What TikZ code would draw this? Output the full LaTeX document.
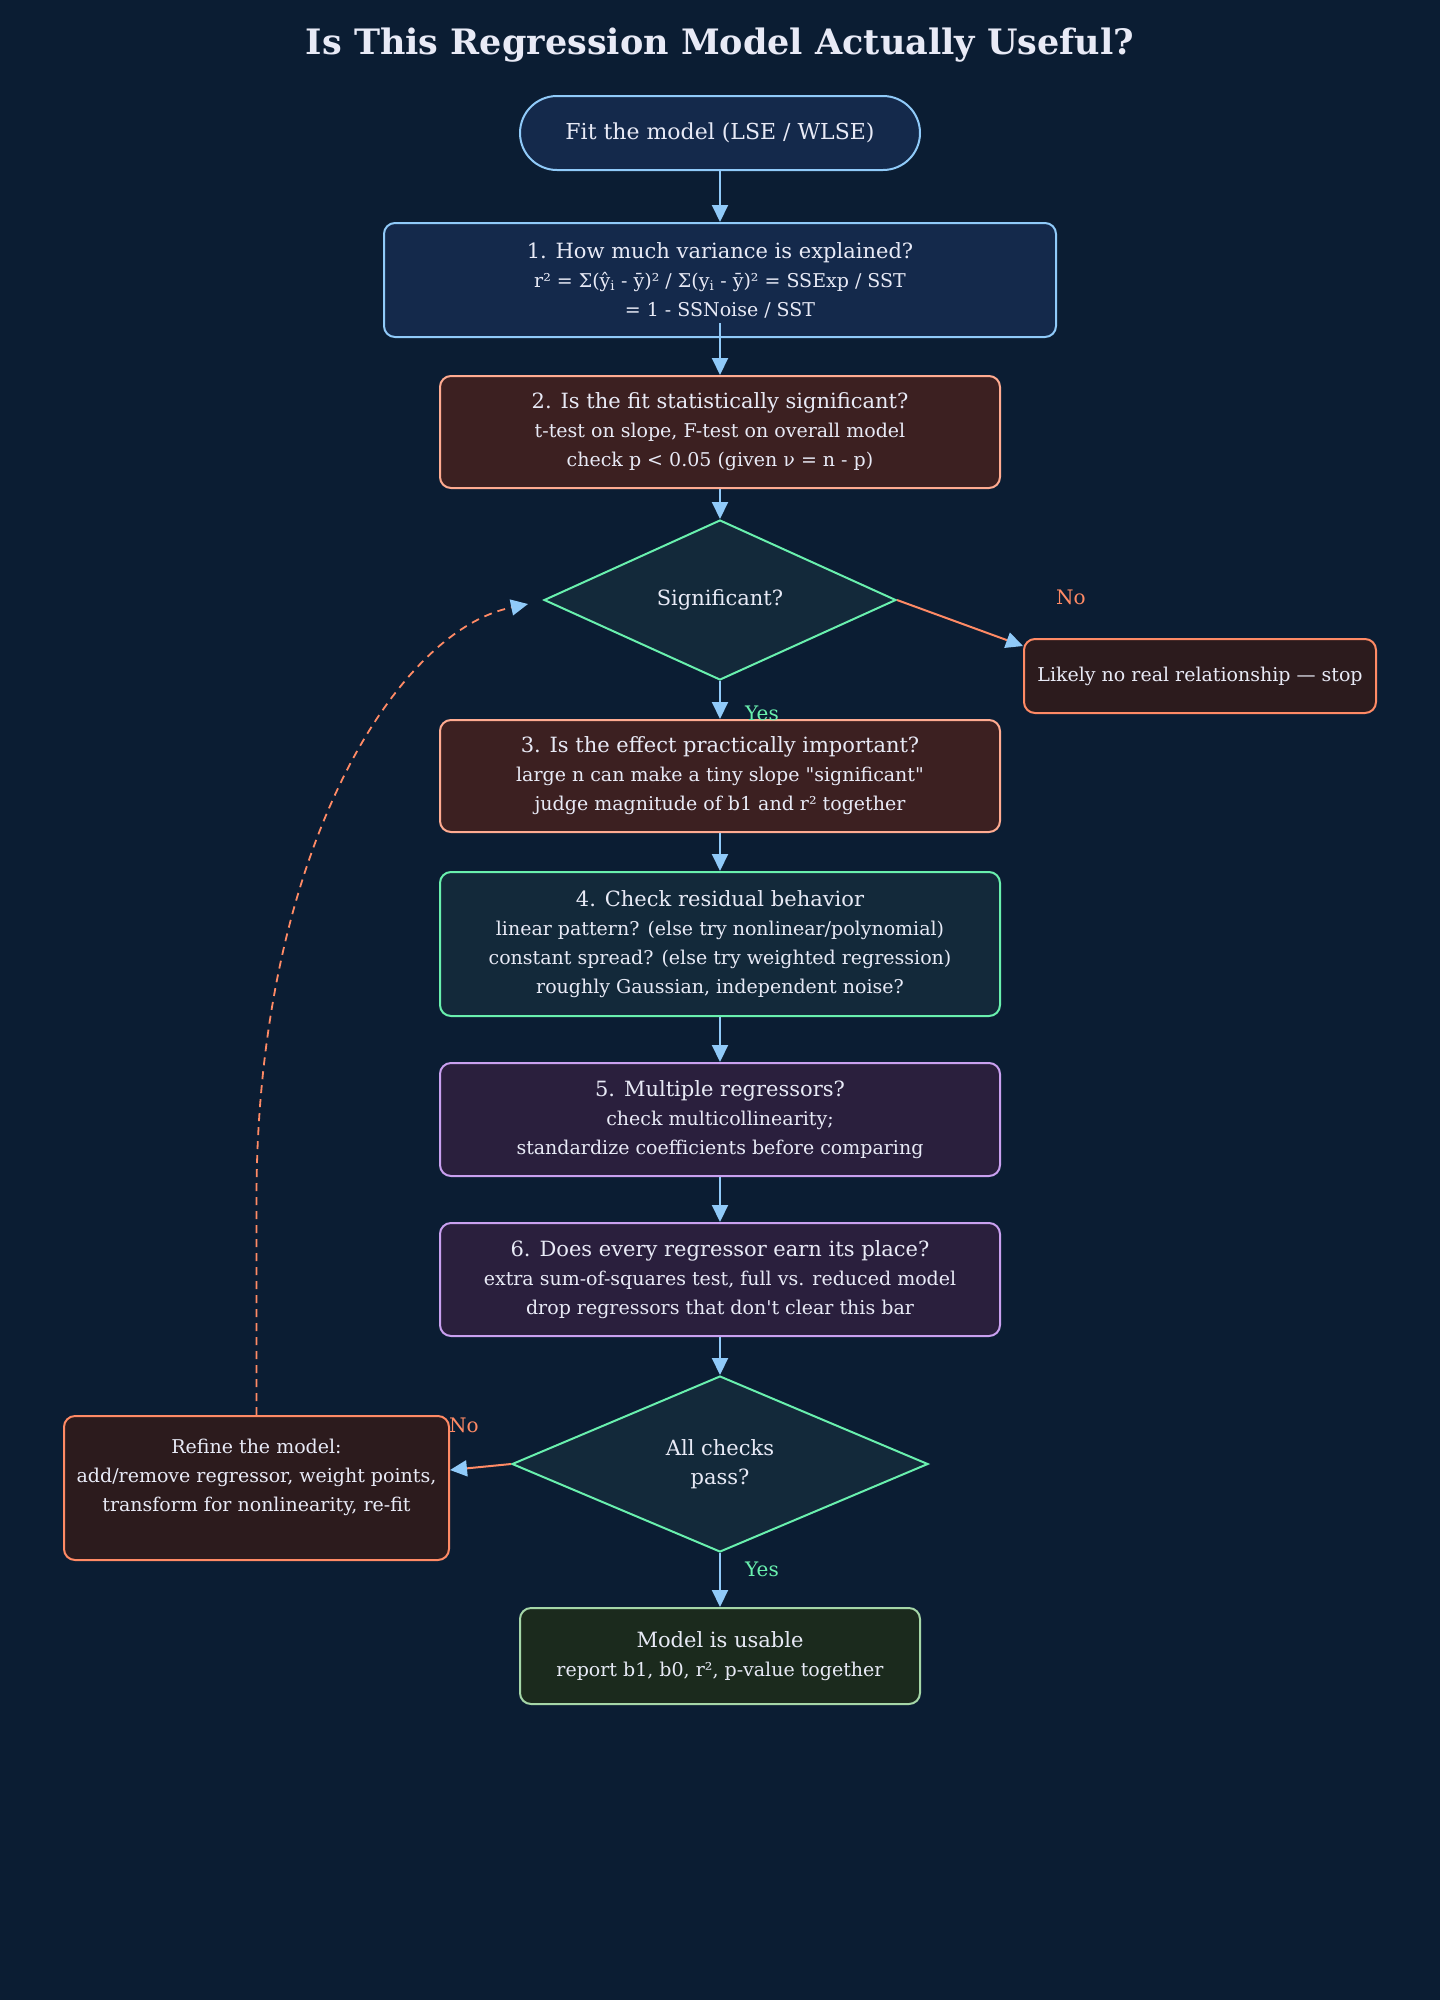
\documentclass[tikz,border=0pt]{standalone}
\usepackage{fontspec}
\setmainfont{DejaVu Serif}[Ligatures=TeXOff]
\usetikzlibrary{arrows.meta,shapes.geometric}
\definecolor{bg}{HTML}{0B1D33}
\definecolor{txt}{HTML}{E8EAF6}
\definecolor{eblue}{HTML}{90CAF9}
\definecolor{salmon}{HTML}{FF8A65}
\definecolor{peach}{HTML}{FFAB91}
\definecolor{mint}{HTML}{69F0AE}
\definecolor{lav}{HTML}{C9A0F0}
\definecolor{lgreen}{HTML}{A5D6A7}
\definecolor{fblue}{HTML}{14294B}
\definecolor{fred}{HTML}{3C2021}
\definecolor{fteal}{HTML}{13293A}
\definecolor{fpurp}{HTML}{2A1F3D}
\definecolor{fstop}{HTML}{2C1B1D}
\definecolor{fgreen}{HTML}{1B2A1D}
\newcommand\mainf{\fontsize{21}{29}\selectfont}
\newcommand\subf{\fontsize{19}{29}\selectfont}
\newcommand\labf{\fontsize{20}{24}\selectfont}
\newcommand\sbi{\textsubscript{i}}
\tikzset{
  box/.style={draw, line width=2pt, rounded corners=11pt, align=center, text=txt, inner sep=0pt, font=\subf},
  dia/.style={draw=mint, fill=fteal, line width=2pt, diamond, align=center, text=txt, inner sep=0pt, font=\mainf},
  arr/.style={draw=eblue, line width=2pt, -{Triangle[length=17pt,width=16pt]}},
  noarr/.style={draw=salmon, line width=2pt, -{Triangle[length=17pt,width=16pt,color=eblue]}},
  backarr/.style={draw=salmon, line width=1.8pt, dash pattern=on 8pt off 6pt, -{Triangle[length=17pt,width=16pt,color=eblue]}},
  nolab/.style={text=salmon, font=\labf, inner sep=0pt},
  yeslab/.style={text=mint, font=\labf, inner sep=0pt}
}
\begin{document}
\begin{tikzpicture}[x=1pt,y=-1pt]
\fill[bg] (0,0) rectangle (1440,2000);
\useasboundingbox (0,0) rectangle (1440,2000);

\node[text=txt, font=\fontsize{35}{40}\selectfont\bfseries, anchor=base] (title) at (720,54) {Is This Regression Model Actually Useful?};

\node[box, draw=eblue, fill=fblue, rounded corners=37pt, minimum width=400pt, minimum height=74pt, font=\fontsize{22}{29}\selectfont] (start) at (720,133) {Fit the model (LSE / WLSE)};

\node[box, draw=eblue, fill=fblue, minimum width=672pt, minimum height=114pt] (b1) at (720,280)
  {{\mainf 1. How much variance is explained?}\\
   r² = Σ(ŷ\sbi{} - ȳ)² / Σ(y\sbi{} - ȳ)² = SSExp / SST\\
   = 1 - SSNoise / SST};

\node[box, draw=peach, fill=fred, minimum width=560pt, minimum height=112pt] (b2) at (720,432)
  {{\mainf 2. Is the fit statistically significant?}\\
   t-test on slope, F-test on overall model\\
   check p < 0.05 (given ν = n - p)};

\node[dia, minimum width=352pt, minimum height=160pt] (d1) at (720,600) {Significant?};

\node[box, draw=salmon, fill=fstop, minimum width=352pt, minimum height=74pt] (stop) at (1200,676)
  {Likely no real relationship — stop};

\node[box, draw=peach, fill=fred, minimum width=560pt, minimum height=112pt] (b3) at (720,776)
  {{\mainf 3. Is the effect practically important?}\\
   large n can make a tiny slope "significant"\\
   judge magnitude of b1 and r² together};

\node[box, draw=mint, fill=fteal, minimum width=560pt, minimum height=144pt] (b4) at (720,944)
  {{\mainf 4. Check residual behavior}\\
   linear pattern? (else try nonlinear/polynomial)\\
   constant spread? (else try weighted regression)\\
   roughly Gaussian, independent noise?};

\node[box, draw=lav, fill=fpurp, minimum width=560pt, minimum height=113pt] (b5) at (720,1119.5)
  {{\mainf 5. Multiple regressors?}\\
   check multicollinearity;\\
   standardize coefficients before comparing};

\node[box, draw=lav, fill=fpurp, minimum width=560pt, minimum height=113pt] (b6) at (720,1279.5)
  {{\mainf 6. Does every regressor earn its place?}\\
   extra sum-of-squares test, full vs. reduced model\\
   drop regressors that don't clear this bar};

\node[dia, minimum width=416pt, minimum height=176pt] (d2) at (720,1464) {All checks\\pass?};

\node[box, draw=salmon, fill=fstop, minimum width=385pt, minimum height=144pt] (refine) at (256.5,1488)
  {Refine the model:\\
   add/remove regressor, weight points,\\
   transform for nonlinearity, re-fit\\[-4pt]\mbox{}};

\node[box, draw=lgreen, fill=fgreen, minimum width=400pt, minimum height=96pt] (final) at (720,1656)
  {{\mainf Model is usable}\\
   report b1, b0, r², p-value together};

% labels
\node[nolab, anchor=base] (no1) at (1071,604) {No};
\node[yeslab, anchor=base] (yes1) at (762,720) {Yes};
\node[nolab, anchor=base] (no2) at (464,1432) {No};
\node[yeslab, anchor=base] (yes2) at (762,1576) {Yes};

% connectors
\draw[arr] (start.south) -- (b1.north);
\draw[arr] ([yshift=15pt]b1.south) -- (b2.north);
\draw[arr] (b2.south) -- (d1.north);
\draw[noarr] (d1.east) -- ([yshift=-8pt]stop.north west);
\draw[arr] (d1.south) -- (b3.north);
\draw[arr] (b3.south) -- (b4.north);
\draw[arr] (b4.south) -- (b5.north);
\draw[arr] (b5.south) -- (b6.north);
\draw[arr] (b6.south) -- (d2.north);
\draw[noarr] (d2.west) -- ([yshift=18pt]refine.east);
\draw[arr] (d2.south) -- (final.north);

\coordinate (back) at ([xshift=-15pt,yshift=-4pt]d1.west);
\coordinate (bend) at ([yshift=216pt]refine.north);
\coordinate (c1) at ([yshift=556pt]refine.north);
\coordinate (c2) at ([xshift=-135pt,yshift=-28pt]back);
\draw[backarr] (refine.north) -- (bend) .. controls (c1) and (c2) .. (back);
\end{tikzpicture}
\end{document}
